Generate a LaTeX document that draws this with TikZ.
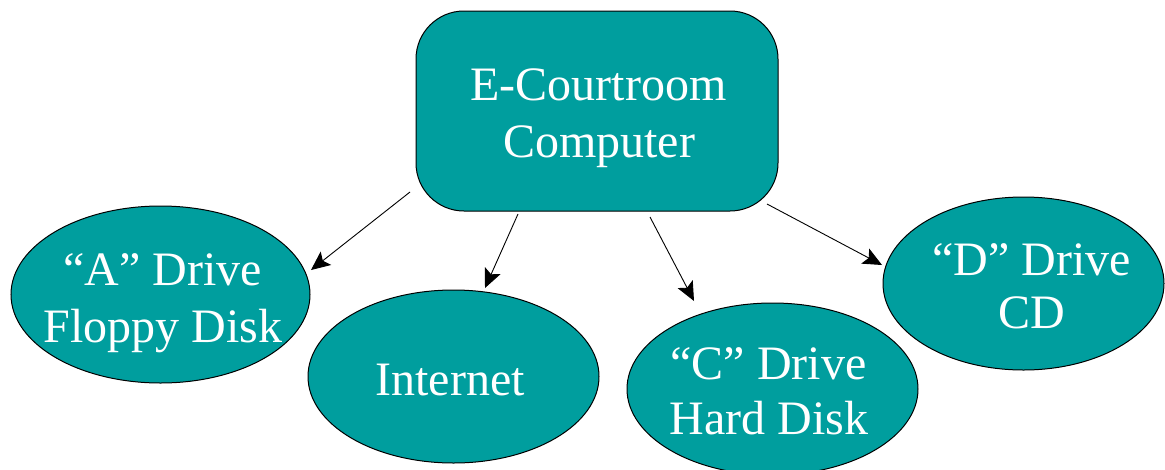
\documentclass[tikz,border=0pt]{standalone}
\usepackage{fontspec}
\setmainfont{Liberation Serif}
\usetikzlibrary{arrows.meta,shapes.geometric}
\definecolor{teal}{RGB}{0,158,158}
\tikzset{
  shp/.style={fill=teal,draw=black,line width=1pt,inner sep=0pt},
  oval/.style={shp,ellipse},
  lbl/.style={text=white,anchor=base,inner sep=0pt,font=\fontsize{48}{56}\selectfont},
  arr/.style={line width=0.9pt,-{Stealth[length=19pt,width=17pt,inset=4pt]}}
}
\begin{document}
\begin{tikzpicture}[x=1pt,y=-1pt]
\useasboundingbox (0,0) rectangle (1165,469);
% main box
\node[shp,rounded corners=48pt,minimum width=362pt,minimum height=200pt] (box) at (597,111) {};
\node[lbl] (boxa) at (598.5,100) {E-Courtroom};
\node[lbl] (boxb) at (599,157) {Computer};
% A drive
\node[oval,minimum width=299pt,minimum height=177pt] (A) at (160.5,294.5) {};
\node[lbl] (Aa) at (162.5,285) {“A” Drive};
\node[lbl] (Ab) at (163,342) {Floppy Disk};
% Internet
\node[oval,minimum width=291pt,minimum height=173pt] (I) at (453.5,376.5) {};
\node[lbl] (Ia) at (450,395) {Internet};
% C drive
\node[oval,minimum width=291pt,minimum height=172pt] (C) at (772.5,389) {};
\node[lbl] (Ca) at (768.5,379) {“C” Drive};
\node[lbl] (Cb) at (769,434) {Hard Disk};
% D drive
\node[oval,minimum width=281pt,minimum height=173pt] (D) at (1023.5,283.5) {};
\node[lbl] (Da) at (1031.5,275) {“D” Drive};
\node[lbl] (Db) at (1032,328) {CD};
% arrow ends
\coordinate (s1) at (410,192);
\coordinate (e1) at (311,270);
\coordinate (s2) at (518,214);
\coordinate (e2) at (485,288);
\coordinate (s3) at (650,217);
\coordinate (e3) at (694,301);
\coordinate (s4) at (767,204);
\coordinate (e4) at (882,265);
\draw[arr] (s1) -- (e1);
\draw[arr] (s2) -- (e2);
\draw[arr] (s3) -- (e3);
\draw[arr] (s4) -- (e4);
\end{tikzpicture}
\end{document}
